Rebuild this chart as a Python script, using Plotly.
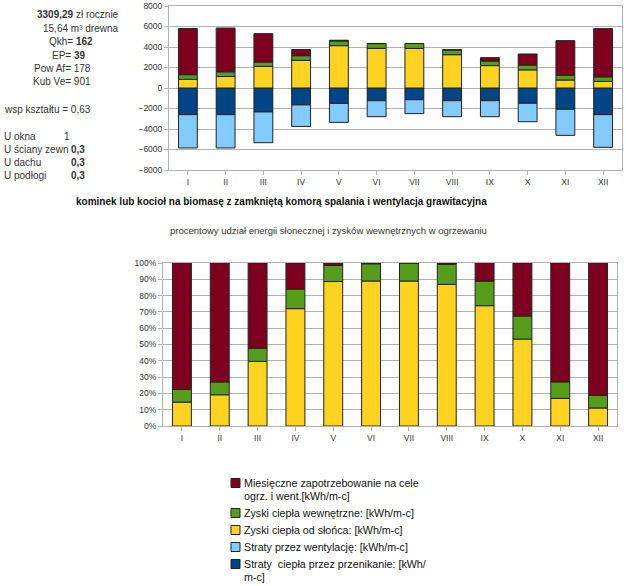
import plotly.graph_objects as go

months = ["I", "II", "III", "IV", "V", "VI", "VII", "VIII", "IX", "X", "XI", "XII"]

# kWh per month (top chart)
transmission = [-2600, -2600, -2340, -1650, -1500, -1240, -1140, -1240, -1240, -1490, -2080, -2600]
ventilation = [-3250, -3250, -3000, -2100, -1850, -1560, -1360, -1560, -1560, -1800, -2540, -3190]
solar = [850, 1120, 2100, 2700, 4130, 3870, 3860, 3250, 2185, 1770, 780, 640]
internal = [450, 460, 430, 450, 460, 460, 480, 460, 445, 470, 470, 450]
demand = [4500, 4270, 2770, 600, 70, 20, 0, 30, 330, 1080, 3370, 4700]

legend_order = ["demand", "internal", "solar", "vent", "trans"]
legend_lines = {
    "demand": ["Miesięczne zapotrzebowanie na cele", "ogrz. i went.[kWh/m-c]"],
    "internal": ["Zyski ciepła wewnętrzne: [kWh/m-c]"],
    "solar": ["Zyski ciepła od słońca: [kWh/m-c]"],
    "vent": ["Straty przez wentylację: [kWh/m-c]"],
    "trans": ["Straty  ciepła przez przenikanie: [kWh/", "m-c]"],
}
colors = {
    "demand": "#7E0021",
    "internal": "#579D1C",
    "solar": "#FFD320",
    "vent": "#83CAFF",
    "trans": "#004586",
}

totals = [s + i + d for s, i, d in zip(solar, internal, demand)]
solar_pct = [s / t for s, t in zip(solar, totals)]
internal_pct = [i / t for i, t in zip(internal, totals)]
demand_pct = [d / t for d, t in zip(demand, totals)]

W, H = 626, 586
FONT = "Liberation Sans, Arial, sans-serif"

fig = go.Figure()
line = dict(color="#222222", width=1)

def bar(y, key, xaxis, yaxis):
    return go.Bar(
        x=months, y=y, name=" ".join(legend_lines[key]), xaxis=xaxis, yaxis=yaxis,
        marker=dict(color=colors[key], line=line), width=0.5, showlegend=False,
    )

# top chart
fig.add_trace(bar(transmission, "trans", "x", "y"))
fig.add_trace(bar(ventilation, "vent", "x", "y"))
fig.add_trace(bar(solar, "solar", "x", "y"))
fig.add_trace(bar(internal, "internal", "x", "y"))
fig.add_trace(bar(demand, "demand", "x", "y"))
# bottom chart
fig.add_trace(bar(solar_pct, "solar", "x2", "y2"))
fig.add_trace(bar(internal_pct, "internal", "x2", "y2"))
fig.add_trace(bar(demand_pct, "demand", "x2", "y2"))

grid = "#b3b3b3"
tickfont = dict(family=FONT, size=8.5, color="#333333")
common_x = dict(tickfont=tickfont, showline=True, mirror=True, linecolor=grid,
                ticks="outside", ticklen=4, tickcolor=grid, showgrid=False)
common_y = dict(tickfont=tickfont, showgrid=True, gridcolor=grid, showline=True, mirror=True,
                linecolor=grid, ticks="outside", ticklen=4, tickcolor=grid)

fig.update_layout(
    width=W, height=H,
    margin=dict(l=0, r=0, t=0, b=0, autoexpand=False),
    paper_bgcolor="white", plot_bgcolor="white",
    barmode="relative",
    font=dict(family=FONT, size=10, color="#333333"),
    showlegend=False,
    xaxis=dict(domain=[169 / W, 622 / W], anchor="y", **common_x),
    yaxis=dict(domain=[1 - 170 / H, 1 - 6 / H], anchor="x", range=[-8000, 8000], dtick=2000,
               zeroline=True, zerolinecolor=grid, zerolinewidth=1, **common_y),
    xaxis2=dict(domain=[163 / W, 617 / W], anchor="y2", **common_x),
    yaxis2=dict(domain=[1 - 426 / H, 1 - 263 / H], anchor="x2", range=[0, 1], dtick=0.1,
                tickformat=".0%", zeroline=False, **common_y),
)

ann = []
shapes = []
def text(x, y, t, size=10, anchor="left", bold=False, color="#333333"):
    if bold:
        t = "<b>" + t + "</b>"
    ann.append(dict(x=x / W, y=1 - y / H, xref="paper", yref="paper", text=t,
                    showarrow=False, xanchor=anchor, yanchor="middle", borderpad=0,
                    font=dict(size=size, color=color, family=FONT)))

text(36, 14, "<b>3309,29</b> zł rocznie")
text(42, 28, "15,64 m³ drewna")
text(48, 42, "Qkh= <b>162</b>")
text(51, 56, "EP= <b>39</b>")
text(33, 69, "Pow Af= 178")
text(32, 82, "Kub Ve= 901")
text(3, 109, "wsp kształtu = 0,63")
text(3, 136, "U okna")
text(63, 136, "1")
text(3, 149, "U ściany zewn")
text(70, 149, "<b>0,3</b>")
text(3, 162, "U dachu")
text(70, 162, "<b>0,3</b>")
text(3, 175, "U podłogi")
text(70, 175, "<b>0,3</b>")

text(281, 201, "kominek lub kocioł na biomasę z zamkniętą komorą spalania i wentylacja grawitacyjna",
     size=10, anchor="center", bold=True, color="#111111")
text(328, 230, "procentowy udział energii słonecznej i zysków wewnętrznych w ogrzewaniu",
     size=9.5, anchor="center")

# manual legend
y0 = 483
for key in legend_order:
    shapes.append(dict(type="rect", xref="paper", yref="paper",
                       x0=231 / W, x1=240 / W, y0=1 - (y0 + 4.5) / H, y1=1 - (y0 - 4.5) / H,
                       fillcolor=colors[key], line=dict(color="#222222", width=1)))
    for i, ln in enumerate(legend_lines[key]):
        text(243, y0 + 13 * i, ln, size=10.7, color="#111111")
    y0 += 17 + 13 * (len(legend_lines[key]) - 1)

fig.update_layout(annotations=ann, shapes=shapes)
fig.write_html("out.html", config={"displayModeBar": False},
               post_script="document.body.style.margin='0px';document.body.style.overflow='hidden';")
